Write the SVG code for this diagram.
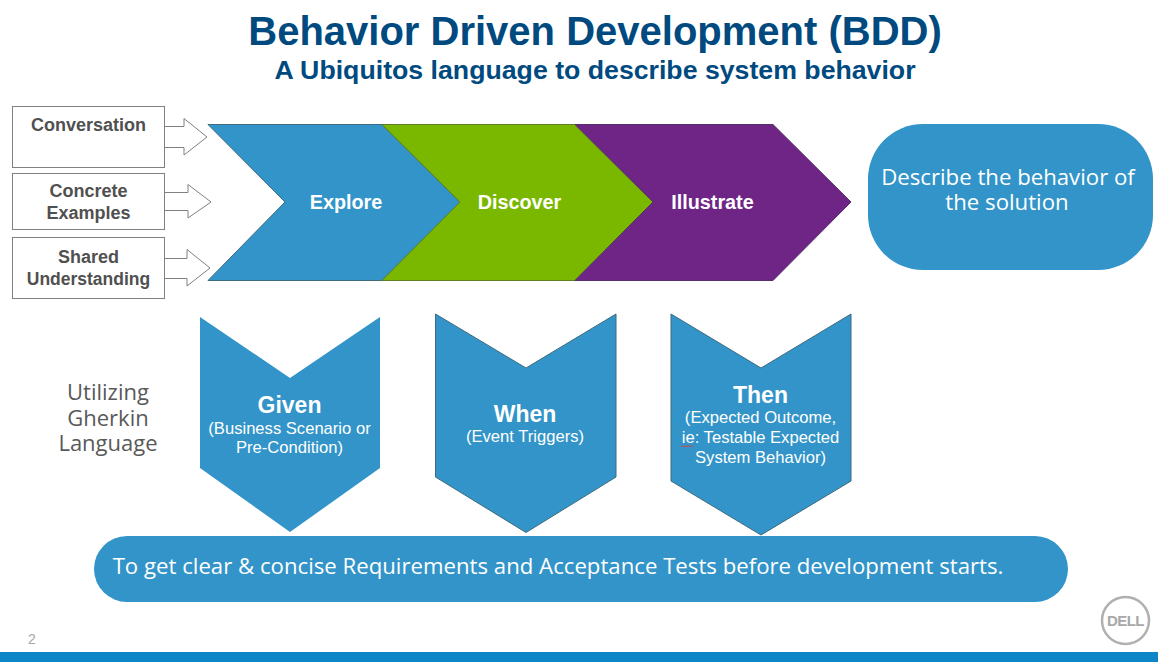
<svg xmlns="http://www.w3.org/2000/svg" width="1158" height="662" viewBox="0 0 1158 662">
<style>
text{font-family:"Liberation Sans",Arial,sans-serif;text-anchor:middle}
.box{fill:#fff;stroke:#808080;stroke-width:1}
.lab{font-weight:700;font-size:18px;fill:#505050}
.blue{fill:#3294c8;stroke:#3d6b80;stroke-width:1}
.w{fill:#fff}
.b{font-weight:700}
.chev{font-weight:700;font-size:19.800px;fill:#fff}
.sub{font-size:16.600px;fill:#fff}
.big{font-size:22.200px;fill:#fff;font-family:"Open Sans","Liberation Sans",sans-serif}
.gh{font-size:22px;fill:#595959;font-family:"Open Sans","Liberation Sans",sans-serif}
</style>
<rect width="1158" height="662" fill="#fff"/>
<text x="595" y="45" font-size="40" class="b" fill="#004a80">Behavior Driven Development (BDD)</text>
<text x="595" y="79" font-size="26.700" class="b" fill="#004a80">A Ubiquitos language to describe system behavior</text>

<g id="connectors">
<path class="box" d="M165 126.500H184V118.500L207 137L184 155V147.500H165"/>
<path class="box" d="M165 192.500H188V184.500L211 202L188 218V210.500H165"/>
<path class="box" d="M165 258.500H187V249.500L210 268L187 286V278.500H165"/>
</g>
<g id="conversation"><rect class="box" x="12.500" y="106.500" width="152" height="61"/><text class="lab" x="88.500" y="131">Conversation</text></g>
<g id="concrete"><rect class="box" x="12.500" y="173.500" width="152" height="56"/><text class="lab" x="88.500" y="197">Concrete</text><text class="lab" x="88.500" y="219">Examples</text></g>
<g id="shared"><rect class="box" x="12.500" y="237.500" width="152" height="61"/><text class="lab" x="88.500" y="263">Shared</text><text class="lab" x="88.500" y="285" style="font-size:17.500px">Understanding</text></g>

<g id="explore"><path class="blue" d="M208 124.500H382L460 202L382 280.500H208L285 202Z"/><text class="chev" x="346" y="209">Explore</text></g>
<g id="discover"><path fill="#7ab800" stroke="#5f7f20" d="M382 124.500H575L653 202L575 280.500H382L460 202Z"/><text class="chev" x="519.500" y="209">Discover</text></g>
<g id="illustrate"><path fill="#6e2585" stroke="#55306a" d="M575 124.500H773L851 202L773 280.500H575L653 202Z"/><text class="chev" x="712.500" y="209">Illustrate</text></g>

<g id="describe"><rect x="868" y="124" width="285" height="146" rx="55" fill="#3294c8"/><text class="big" x="1008" y="185">Describe the behavior of</text><text class="big" x="1007" y="210">the solution</text></g>

<g id="utilizing"><text class="gh" x="108" y="400">Utilizing</text><text class="gh" x="108" y="426">Gherkin</text><text class="gh" x="108" y="451">Language</text></g>

<g id="given"><path fill="#3294c8" d="M200 317L290 378L380 317V468L290 532L200 468Z"/><text class="w b" x="289.500" y="413" font-size="23">Given</text><text class="sub" x="289.500" y="434">(Business Scenario or</text><text class="sub" x="289.500" y="453">Pre-Condition)</text></g>
<g id="when"><path class="blue" d="M435.500 314L526 368L616 314V477L526 532.500L435.500 477Z"/><text class="w b" x="525" y="422" font-size="23">When</text><text class="sub" x="525" y="442">(Event Triggers)</text></g>
<g id="then"><path class="blue" d="M671 314L761 368L851 314V481L761 535L671 481Z"/><text class="w b" x="760.500" y="403" font-size="23">Then</text><text class="sub" x="760.500" y="423">(Expected Outcome,</text><text class="sub" x="760.500" y="443">ie: Testable Expected</text><text class="sub" x="760.500" y="463">System Behavior)</text><path d="M681 447l1.500-1.500 1.500 1.500 1.500-1.500 1.500 1.500 1.500-1.500 1.500 1.500 1.500-1.500 1.500 1.500" fill="none" stroke="#d8423c" stroke-width="1"/></g>

<g id="goal"><rect x="94" y="536" width="974" height="66" rx="33" fill="#3294c8"/><text class="big" x="558" y="574">To get clear &amp; concise Requirements and Acceptance Tests before development starts.</text></g>

<text x="32" y="644" font-size="14" fill="#a6a6a6">2</text>
<g id="dell"><circle cx="1125.500" cy="620.500" r="23.500" fill="#fff" stroke="#b0b0b0" stroke-width="2.500"/><text x="1125.500" y="626" font-size="15" class="b" fill="#a8a8a8" letter-spacing="-0.600">DELL</text></g>
<rect x="0" y="652" width="1158" height="10" fill="#0d85c7"/>
</svg>
